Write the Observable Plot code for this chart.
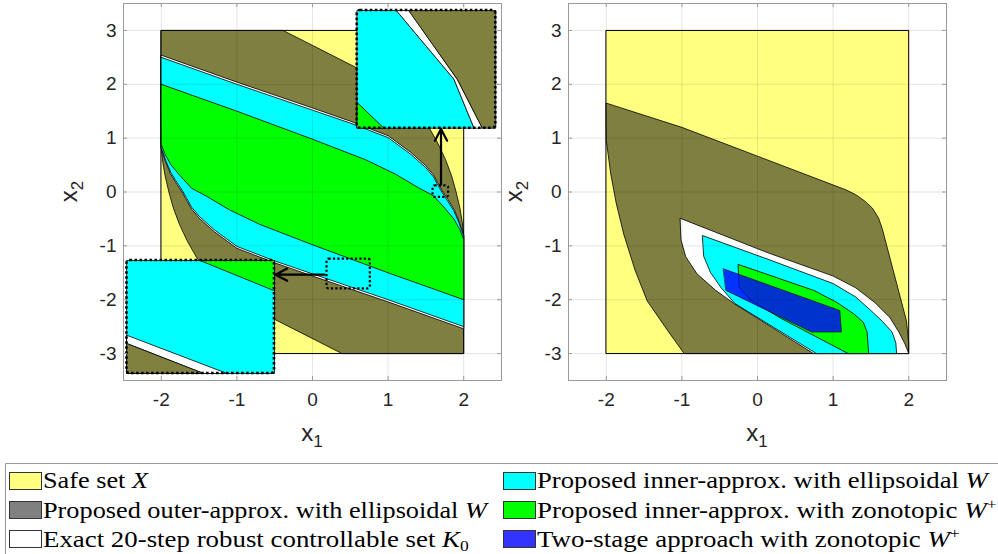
<!DOCTYPE html>
<html><head><meta charset="utf-8">
<script src="https://cdn.jsdelivr.net/npm/d3@7"></script>
<script src="https://cdn.jsdelivr.net/npm/@observablehq/plot@0.6"></script>
<style>
body{margin:0;background:#fff}
#chart{position:relative;width:998px;height:554px;overflow:hidden;background:#fff}
#chart svg{position:absolute;top:0}
</style>
</head><body><div id="chart"></div>
<script>
// ---------- ticks ----------
const xTicks = [-2, -1, 0, 1, 2];
const yTicks = [-3, -2, -1, 0, 1, 2, 3];

// ---------- left panel sets (x1, x2) ----------
const safeSet = [[-2,-3],[2,-3],[2,3],[-2,3]];
const outerLeft = [[-2,3],[-0.39,3],[0.55,2.33],[1.05,1.9],[1.35,1.58],[1.54,1.2],[1.66,0.9],[1.76,0.6],[1.84,0.3],[1.9,0.0],[1.95,-0.3],[1.98,-0.55],[2,-0.8],
  [2,-3],[0.39,-3],[-0.55,-2.33],[-1.05,-1.9],[-1.35,-1.58],[-1.54,-1.2],[-1.66,-0.9],[-1.76,-0.6],[-1.84,-0.3],[-1.9,0.0],[-1.95,0.3],[-1.98,0.55],[-2,0.8]];
const exactLeft = [[-2,2.54],[-1,2.04],[0,1.56],[0.5,1.315],[1.0,1.045],[1.3,0.735],[1.5,0.485],[1.6,0.315],[1.68,0.115],[1.725,0.0],[1.795,-0.145],[1.88,-0.34],[1.945,-0.57],[2,-0.8],
  [2,-2.54],[1,-2.04],[0,-1.56],[-0.5,-1.315],[-1.0,-1.045],[-1.3,-0.735],[-1.5,-0.485],[-1.6,-0.315],[-1.68,-0.115],[-1.725,0.0],[-1.795,0.145],[-1.88,0.34],[-1.945,0.57],[-2,0.8]];
const cyanLeft = [[-2,2.5],[-1,2.0],[0,1.52],[0.5,1.28],[1.0,1.01],[1.3,0.7],[1.5,0.45],[1.6,0.28],[1.67,0.1],[1.71,0.0],[1.78,-0.15],[1.87,-0.35],[1.94,-0.58],[2,-0.82],
  [2,-2.5],[1,-2.0],[0,-1.52],[-0.5,-1.28],[-1.0,-1.01],[-1.3,-0.7],[-1.5,-0.45],[-1.6,-0.28],[-1.67,-0.1],[-1.71,0.0],[-1.78,0.15],[-1.87,0.35],[-1.94,0.58],[-2,0.82]];
const greenLeft = [[-2,2.0],[-1,1.5],[0,0.98],[0.7,0.6],[1.1,0.33],[1.4,0.08],[1.6,-0.07],[1.75,-0.3],[1.87,-0.5],[1.95,-0.7],[2,-0.88],
  [2,-2.0],[1,-1.5],[0,-0.98],[-0.7,-0.6],[-1.1,-0.33],[-1.4,-0.08],[-1.6,0.07],[-1.75,0.3],[-1.87,0.5],[-1.95,0.7],[-2,0.88]];

// ---------- zoom insets (drawn in the left panel's coordinates) ----------
const inset1Cyan  = [[0.592,3.37],[1.113,3.37],[1.872,2.09],[2.137,1.185],[0.592,1.185]];
const inset1White = [[1.113,3.37],[1.276,3.37],[1.916,2.09],[2.247,1.185],[2.137,1.185],[1.872,2.09]];
const inset1Olive = [[1.276,3.37],[2.424,3.37],[2.424,1.185],[2.247,1.185],[1.916,2.09]];
const inset1Green = [[0.592,1.66],[0.945,1.185],[0.592,1.185]];
const inset2Cyan  = [[-2.454,-1.272],[-0.503,-1.272],[-0.503,-3.37],[-2.454,-3.37]];
const inset2Green = [[-1.483,-1.272],[-0.503,-1.272],[-0.503,-1.828]];
const inset2White = [[-2.454,-2.661],[-1.13,-3.37],[-1.44,-3.37],[-2.454,-2.815]];
const inset2Olive = [[-2.454,-2.815],[-1.44,-3.37],[-2.454,-3.37]];
const insetBoxes = [{x1:0.592,x2:2.424,y1:1.185,y2:3.37},{x1:-2.454,x2:-0.503,y1:-3.37,y2:-1.272}];
const zoomBoxes  = [{x1:1.594,x2:1.80,y1:-0.10,y2:0.114},{x1:0.192,x2:0.765,y1:-1.80,y2:-1.245}];
const zoomArrows = [{x1:1.70,y1:0.14,x2:1.70,y2:1.17},{x1:0.16,y1:-1.535,x2:-0.49,y2:-1.535}];

// ---------- right panel sets ----------
const outerRight = [[-2,1.65],[-1.0,1.2],[1.17,0.04],[1.3,-0.05],[1.42,-0.17],[1.52,-0.3],[1.6,-0.48],[1.65,-0.68],[1.97,-2.39],[2,-2.8],[2,-3],
  [-0.97,-3],[-1.19,-2.57],[-1.46,-2.02],[-1.62,-1.45],[-1.77,-0.78],[-1.87,-0.2],[-1.94,0.33],[-2,0.95]];
const exactRight = [[-1.02,-0.49],[0.14,-1.13],[1.0,-1.56],[1.3,-1.78],[1.55,-2.05],[1.75,-2.33],[1.87,-2.6],[1.95,-2.82],[2,-3],
  [0.74,-3],[-0.3,-2.08],[-0.55,-1.83],[-0.8,-1.52],[-0.95,-1.2],[-1.01,-0.9]];
const cyanRight = [[-0.725,-0.81],[0.14,-1.25],[1.0,-1.70],[1.3,-1.95],[1.5,-2.2],[1.65,-2.4],[1.78,-2.6],[1.83,-2.8],[1.84,-3],
  [0.78,-3],[-0.3,-2.07],[-0.48,-1.78],[-0.62,-1.5],[-0.71,-1.2]];
const greenRight = [[-0.252,-1.346],[0.75,-1.83],[1.05,-2.05],[1.28,-2.27],[1.4,-2.42],[1.45,-2.6],[1.47,-3],
  [1.2,-3],[0.315,-2.35],[-0.1,-2.0],[-0.24,-1.77]];
const blueRight = [[-0.451,-1.426],[1.089,-2.20],[1.111,-2.60],[0.713,-2.60],[-0.416,-1.828]];

// ---------- legend ----------
const legendLabels  = ["Safe set ", "Proposed outer-approx. with ellipsoidal ", "Exact 20-step robust controllable set ",
                       "Proposed inner-approx. with ellipsoidal ", "Proposed inner-approx. with zonotopic ", "Two-stage approach with zonotopic "];
const legendSymbols = ["X", "W", "K", "W", "W", "W"];
const legendSubs    = ["", "", "0", "", "", ""];
const legendSups    = ["", "", "", "", "+", "+"];
const legendColors  = ["#ffff80", "#808080", "#ffffff", "#00ffff", "#00ff00", "#3333ff"];

// ---------- drawing ----------
const YELLOW = "#ffff80", CYAN = "#00ffff", GREEN = "#00ff00", OLIVE = "#80803f";
const H = 455, MT = 3, MB = 75, INNER_H = H - MT - MB;
const pts = a => a.map(([x, y]) => ({x, y}));
const poly = (a, fill, o = {}) => Plot.line(pts(a), {x: "x", y: "y", fill, stroke: "#000", strokeWidth: 0.8, curve: "linear-closed", ...o});
const fmt = d => String(d);

function gridMarks() {
  return [
    Plot.gridX(xTicks, {stroke: "#000", strokeOpacity: 0.1}),
    Plot.gridY(yTicks, {stroke: "#000", strokeOpacity: 0.1}),
  ];
}
function frameMarks(innerW) {
  return [
    Plot.tickX(xTicks, {x: d => d, insetTop: INNER_H - 4, stroke: "#9a9a9a"}),
    Plot.tickX(xTicks, {x: d => d, insetBottom: INNER_H - 4, stroke: "#9a9a9a"}),
    Plot.tickY(yTicks, {y: d => d, insetLeft: innerW - 4, stroke: "#9a9a9a"}),
    Plot.tickY(yTicks, {y: d => d, insetRight: innerW - 4, stroke: "#9a9a9a"}),
    Plot.frame({stroke: "#9a9a9a"}),
    Plot.axisX(xTicks, {tickSize: 0, tickPadding: 12, tickFormat: fmt, label: null, fontSize: 19, fill: "#262626"}),
    Plot.axisY(yTicks, {tickSize: 0, tickPadding: 7, tickFormat: fmt, label: null, fontSize: 19, fill: "#262626"})
  ];
}
function makePanel(left, width, mL, mR, marks, gridAt, ylabX) {
  const innerW = width - mL - mR;
  const svg = Plot.plot({
    width, height: H, marginLeft: mL, marginRight: mR, marginTop: MT, marginBottom: MB,
    x: {domain: [-2.5, 2.5], label: null},
    y: {domain: [-3.5, 3.5], label: null},
    style: {fontFamily: "'Liberation Sans', Arial, sans-serif", fontSize: "19px", background: "transparent", overflow: "visible"},
    marks: [...marks.slice(0, gridAt), ...gridMarks(), ...marks.slice(gridAt), ...frameMarks(innerW)]
  });
  svg.style.left = left + "px";
  const s = d3.select(svg);
  const cx = mL + innerW / 2;
  const t1 = s.append("text").attr("x", cx).attr("y", 441).attr("text-anchor", "middle")
    .attr("fill", "#262626").style("font-family", "'Liberation Sans', Arial, sans-serif").style("font-size", "24px");
  t1.append("tspan").text("x");
  t1.append("tspan").attr("dy", 6).style("font-size", "17px").text("1");
  const cy = MT + INNER_H / 2;
  const t2 = s.append("text").attr("transform", `translate(${ylabX},${cy}) rotate(-90)`).attr("text-anchor", "middle")
    .attr("fill", "#262626").style("font-family", "'Liberation Sans', Arial, sans-serif").style("font-size", "24px");
  t2.append("tspan").text("x");
  t2.append("tspan").attr("dy", 6).style("font-size", "17px").text("2");
  return svg;
}

const chart = document.getElementById("chart");

const leftMarks = [
  poly(safeSet, YELLOW, {strokeWidth: 1}),
  poly(outerLeft, "#000", {fillOpacity: 0.5}),
  poly(exactLeft, "#fff"),
  poly(cyanLeft, CYAN),
  poly(greenLeft, GREEN),
  poly(inset1Cyan, CYAN), poly(inset1White, "#fff"), poly(inset1Olive, OLIVE), poly(inset1Green, GREEN),
  poly(inset2Cyan, CYAN), poly(inset2Green, GREEN), poly(inset2White, "#fff"), poly(inset2Olive, OLIVE),
  Plot.rect(insetBoxes, {x1: "x1", x2: "x2", y1: "y1", y2: "y2", fill: "none", stroke: "#000", strokeWidth: 2.6, strokeDasharray: "2.6,2.4", rx: 3}),
  Plot.rect(zoomBoxes, {x1: "x1", x2: "x2", y1: "y1", y2: "y2", fill: "none", stroke: "#000", strokeWidth: 2.2, strokeDasharray: "2.2,2.2", rx: 2}),
  Plot.arrow(zoomArrows, {x1: "x1", y1: "y1", x2: "x2", y2: "y2", stroke: "#000", strokeWidth: 2.2, headLength: 9, headAngle: 55})
];
chart.appendChild(makePanel(0, 503, 123, 2, leftMarks, 5, 77));

const rightMarks = [
  poly(safeSet, YELLOW, {strokeWidth: 1}),
  poly(outerRight, "#000", {fillOpacity: 0.5}),
  poly(exactRight, "#fff"),
  poly(cyanRight, CYAN),
  poly(greenRight, GREEN),
  poly(blueRight, "#0000ff", {fillOpacity: 0.8, strokeWidth: 0.6})
];
chart.appendChild(makePanel(500, 498, 68, 52, rightMarks, 6, 22));

// legend
const leg = d3.create("svg").attr("width", 998).attr("height", 99)
  .style("position", "absolute").style("left", "0px").style("top", "455px");
chart.appendChild(leg.node());
leg.append("path").attr("d", "M5.5,99V8.5H998").attr("fill", "none").attr("stroke", "#999").attr("stroke-width", 1);
const colX = [9, 503], textX = [43, 537], rowTop = [17, 46, 75], rowBase = [33, 62.5, 92];
const textEnd = [148, 487, 469, 988, 997, 960];
legendLabels.forEach((lab, i) => {
  const c = Math.floor(i / 3), r = i % 3;
  leg.append("rect").attr("x", colX[c] + 0.5).attr("y", rowTop[r] + 0.5).attr("width", 32).attr("height", 17)
    .attr("fill", legendColors[i]).attr("stroke", "#333").attr("stroke-width", 1);
  const g = leg.append("g");
  const t = g.append("text").attr("fill", "#000")
    .style("font-family", "'Liberation Serif', 'Times New Roman', serif").style("font-size", "23px");
  t.append("tspan").text(lab);
  t.append("tspan").style("font-style", "italic").text(legendSymbols[i]);
  if (legendSubs[i]) t.append("tspan").attr("dy", 4).style("font-size", "15px").text(legendSubs[i]);
  if (legendSups[i]) t.append("tspan").attr("dy", -9).style("font-size", "15px").text(legendSups[i]);
  const w = t.node().getComputedTextLength();
  const sx = (textEnd[i] - textX[c]) / w;
  g.attr("transform", `translate(${textX[c]},${rowBase[r]}) scale(${sx},1)`);
});
</script></body></html>
